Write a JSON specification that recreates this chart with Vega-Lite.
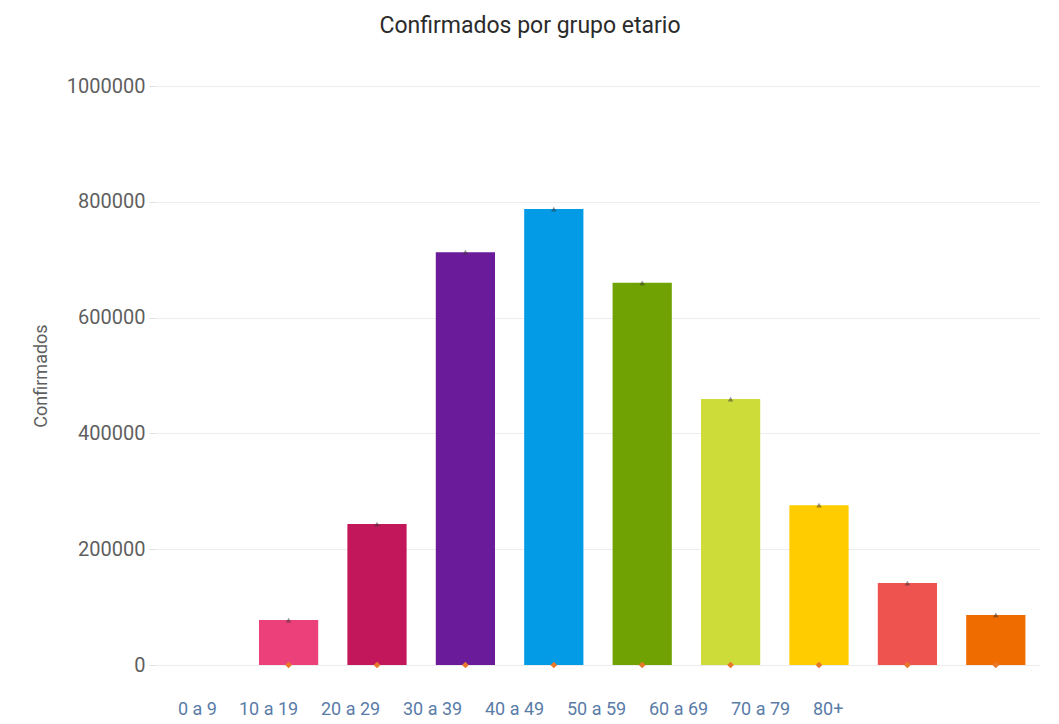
{
  "$schema": "https://vega.github.io/schema/vega-lite/v6.json",
  "autosize": {"type": "none"},
  "width": 884,
  "height": 579,
  "padding": {"left": 156, "top": 86, "right": 19, "bottom": 59},
  "background": "#ffffff",
  "config": {"view": {"stroke": null}},
  "title": {
    "text": "Confirmados por grupo etario",
    "font": "Roboto",
    "fontSize": 23,
    "fontWeight": "normal",
    "color": "#2b2b2b",
    "anchor": "middle",
    "dx": -68,
    "offset": 38
  },
  "data": {
    "values": [
      {"grupo": "0 a 9", "confirmados": 77700},
      {"grupo": "10 a 19", "confirmados": 243500},
      {"grupo": "20 a 29", "confirmados": 713000},
      {"grupo": "30 a 39", "confirmados": 787500},
      {"grupo": "40 a 49", "confirmados": 660000},
      {"grupo": "50 a 59", "confirmados": 459400},
      {"grupo": "60 a 69", "confirmados": 276000},
      {"grupo": "70 a 79", "confirmados": 141600},
      {"grupo": "80+", "confirmados": 86400}
    ]
  },
  "encoding": {
    "x": {
      "field": "grupo",
      "type": "nominal",
      "sort": null,
      "scale": {
        "domain": ["", "0 a 9", "10 a 19", "20 a 29", "30 a 39", "40 a 49", "50 a 59", "60 a 69", "70 a 79", "80+"],
        "paddingInner": 0.33,
        "paddingOuter": 0.165
      },
      "axis": {"title": null, "labels": false, "ticks": false, "domain": false, "grid": false}
    }
  },
  "layer": [
    {
      "mark": {"type": "bar"},
      "encoding": {
        "y": {
          "field": "confirmados",
          "type": "quantitative",
          "scale": {"domain": [0, 1000000], "nice": false},
          "axis": {
            "title": "Confirmados",
            "titleFont": "Roboto",
            "titleFontSize": 18,
            "titleFontWeight": "normal",
            "titleColor": "#5f5f5f",
            "titlePadding": 16,
            "values": [0, 200000, 400000, 600000, 800000, 1000000],
            "format": "d",
            "labelFont": "Roboto",
            "labelFontSize": 20,
            "labelColor": "#5f5f5f",
            "labelPadding": 4,
            "domain": false,
            "ticks": true,
            "tickSize": 7,
            "tickColor": "#e0e0e0",
            "grid": true,
            "gridColor": "#ececec",
            "gridWidth": 1
          }
        },
        "color": {
          "field": "grupo",
          "type": "nominal",
          "sort": null,
          "scale": {
            "domain": ["0 a 9", "10 a 19", "20 a 29", "30 a 39", "40 a 49", "50 a 59", "60 a 69", "70 a 79", "80+"],
            "range": ["#ec407a", "#c2185b", "#6a1b9a", "#039be5", "#6fa202", "#cddc39", "#ffcc00", "#ef5350", "#ef6c00"]
          },
          "legend": {
            "title": null,
            "orient": "none",
            "legendX": 22,
            "legendY": 615,
            "direction": "horizontal",
            "symbolSize": 1,
            "symbolOpacity": 0,
            "symbolStrokeWidth": 0,
            "labelOffset": -18,
            "columnPadding": 22,
            "labelFont": "Roboto",
            "labelFontSize": 18,
            "labelColor": "#5a7ca8",
            "padding": 0
          }
        }
      }
    },
    {
      "mark": {"type": "point", "shape": "triangle-up", "size": 30, "filled": true, "color": "#333333", "opacity": 0.5},
      "encoding": {
        "y": {"field": "confirmados", "type": "quantitative"}
      }
    },
    {
      "mark": {"type": "point", "shape": "diamond", "size": 45, "filled": true, "color": "#e8782a", "opacity": 1},
      "encoding": {
        "y": {"datum": 0}
      }
    }
  ]
}
